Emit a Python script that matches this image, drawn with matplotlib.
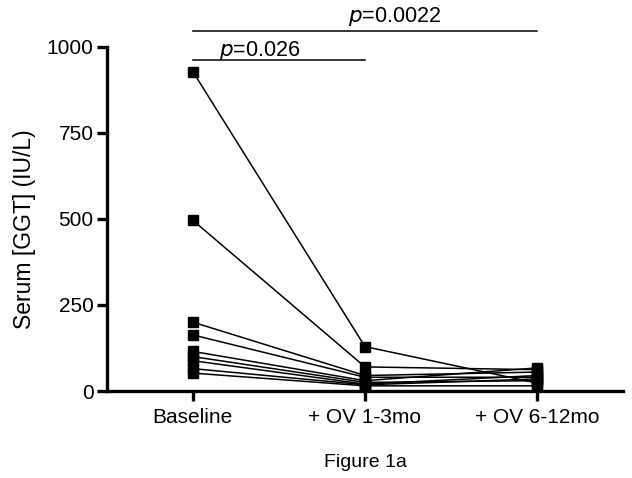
"""
Serum GGT per patient at baseline and after OV treatment (Figure 1a).
"""

import matplotlib.pyplot as plt

plt.rcParams["font.family"] = ["Liberation Sans", "DejaVu Sans"]

timepoints = ["Baseline", "+ OV 1-3mo", "+ OV 6-12mo"]

# one value per patient, same order in each list
baseline = [928, 496, 200, 163, 115, 100, 88, 65, 52]
ov_1_3mo = [129, 70, 45, 40, 30, 25, 20, 18, 15]
ov_6_12mo = [23, 62, 55, 40, 67, 30, 45, 35, 15]

p_short = "0.026"
p_long = "0.0022"

fig = plt.figure(figsize=(6.32, 4.78), dpi=100)
ax = fig.add_axes([0.169, 0.182, 0.817, 0.72])

x = list(range(len(timepoints)))
for patient in zip(baseline, ov_1_3mo, ov_6_12mo):
    ax.plot(x, patient, color="black", lw=1.1, marker="s", ms=7.5,
            clip_on=False, zorder=3)

ax.set_xlim(-0.5, 2.5)
ax.set_ylim(0, 1000)
ax.set_yticks([0, 250, 500, 750, 1000])
ax.set_xticks(x)
ax.set_xticklabels(timepoints)

for side in ["top", "right"]:
    ax.spines[side].set_visible(False)
for side in ["left", "bottom"]:
    ax.spines[side].set_linewidth(2.4)
ax.tick_params(axis="y", length=7.5, width=2.4, labelsize=15, pad=2)
ax.tick_params(axis="x", length=7, width=2.4, labelsize=15, pad=5)

ax.set_ylabel("Serum [GGT] (IU/L)", fontsize=16.5, va="center")
ax.yaxis.set_label_coords(-0.159, 0.47)
ax.set_xlabel("Figure 1a", fontsize=14, labelpad=20)

# significance bars
ax.plot([0, 1], [962, 962], color="black", lw=1.1, clip_on=False)
ax.plot([0, 2], [1047, 1047], color="black", lw=1.1, clip_on=False)
ax.text(0.386, 974, "$\\it{p}$=" + p_short, ha="center", va="baseline",
        fontsize=15.5)
ax.text(1.17, 1073, "$\\it{p}$=" + p_long, ha="center", va="baseline",
        fontsize=15.5)

fig.savefig("out.png", dpi=100)
